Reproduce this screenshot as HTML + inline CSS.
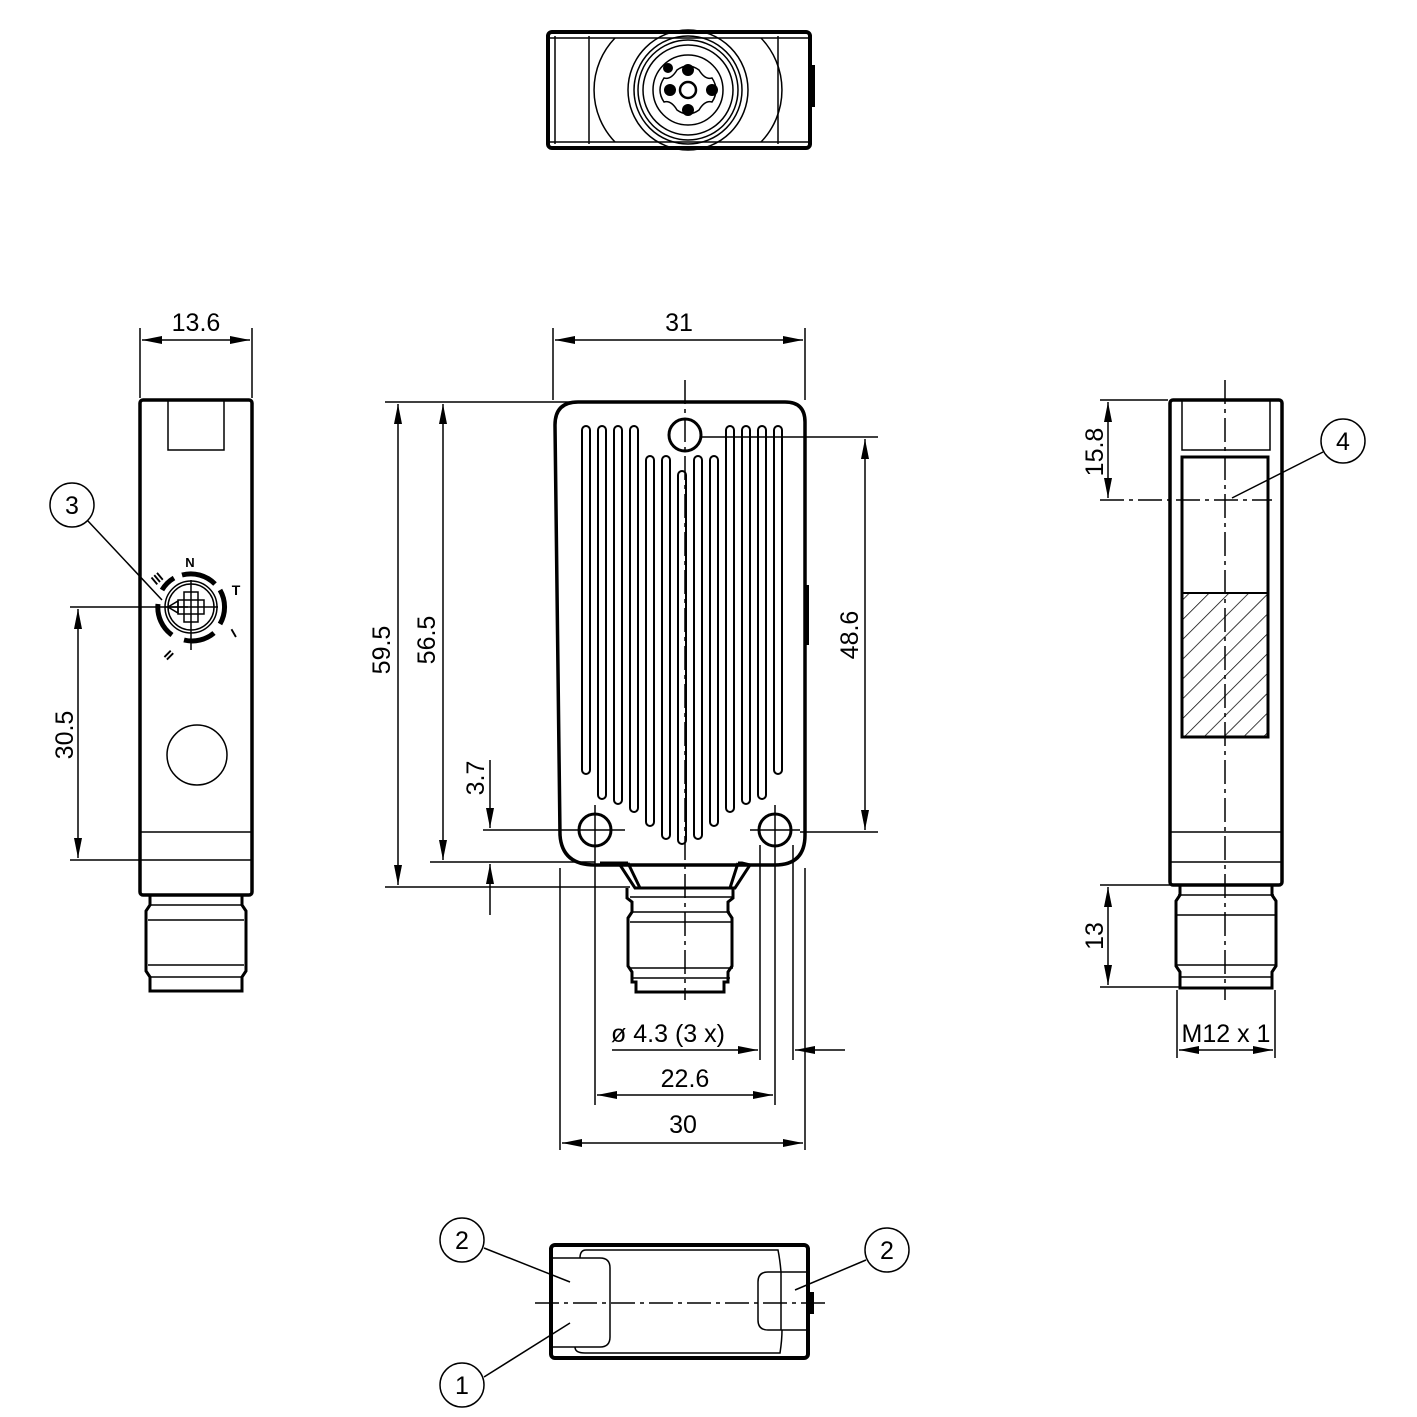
<!DOCTYPE html>
<html><head><meta charset="utf-8"><style>
html,body{margin:0;padding:0;background:#fff}
svg{display:block}
text{font-family:"Liberation Sans",sans-serif;font-size:25px;fill:#000}
</style></head><body>
<svg width="1417" height="1417" viewBox="0 0 1417 1417" xmlns="http://www.w3.org/2000/svg">
<defs>
<marker id="a" viewBox="0 0 20 8" refX="20" refY="4" markerWidth="20" markerHeight="8" markerUnits="userSpaceOnUse" orient="auto-start-reverse"><path d="M0,0 L20,4 L0,8z" fill="#000"/></marker>
<pattern id="h" width="14" height="14" patternUnits="userSpaceOnUse" patternTransform="rotate(45)"><line x1="0" y1="0" x2="0" y2="14" stroke="#000" stroke-width="1.5"/></pattern>
</defs>
<g fill="none" stroke="#000" stroke-width="1.5">

<!-- TOP VIEW -->
<rect x="548" y="32" width="262" height="116" rx="4" stroke-width="4"/>
<line x1="555" y1="36" x2="555" y2="144"/>
<line x1="550" y1="38" x2="808" y2="38"/><line x1="550" y1="142" x2="808" y2="142"/>
<line x1="589" y1="36" x2="589" y2="144"/><line x1="778" y1="36" x2="778" y2="144"/>
<path d="M615,38 A75,75 0 0 0 615,142"/><path d="M761,38 A75,75 0 0 1 761,142"/>
<circle cx="688" cy="90" r="60"/><circle cx="688" cy="90" r="54"/><circle cx="688" cy="90" r="50"/><circle cx="688" cy="90" r="45"/><circle cx="688" cy="90" r="35"/>
<path d="M677,70 Q688,62 699,70 Q705,80 712,78 Q720,90 712,102 Q705,100 699,110 Q688,118 677,110 Q671,100 664,102 Q656,90 664,78 Q671,80 677,70z"/>
<g fill="#000" stroke="none"><circle cx="688" cy="70" r="6"/><circle cx="688" cy="110" r="6"/><circle cx="670" cy="90" r="6"/><circle cx="712" cy="90" r="6"/><circle cx="668" cy="68" r="5"/><rect x="809" y="65" width="6" height="42"/></g>
<circle cx="688" cy="90" r="8" stroke-width="2.5"/>

<!-- LEFT SIDE VIEW -->
<rect x="140" y="400" width="112" height="495" rx="3" stroke-width="3.5"/>
<path d="M168,401 V450 H224 V401"/>
<line x1="141" y1="832" x2="251" y2="832"/><line x1="141" y1="860" x2="251" y2="860"/>
<circle cx="197" cy="755" r="30"/>
<path d="M150,895 v10 l-4,6 v60 l4,6 v14 h92 v-14 l4,-6 v-60 l-4,-6 v-10" stroke-width="3"/>
<line x1="148" y1="920" x2="244" y2="920"/><line x1="148" y1="965" x2="244" y2="965"/><line x1="150" y1="905" x2="242" y2="905"/><line x1="150" y1="977" x2="242" y2="977"/>
<!-- dial -->
<circle cx="191" cy="607" r="26"/><circle cx="191" cy="607" r="23"/>
<rect x="178" y="600" width="26" height="14"/><rect x="184" y="592" width="14" height="30"/>
<path d="M168,607 l10,-6 v12z"/>
<line x1="165" y1="607" x2="218" y2="607"/><line x1="191" y1="580" x2="191" y2="650"/>
<g stroke-width="5"><path d="M182,575 A34,34 0 0 1 215,584"/><path d="M220,590 A34,34 0 0 1 220,624"/><path d="M214,633 A34,34 0 0 1 184,640"/><path d="M172,635 A34,34 0 0 1 158,604"/><path d="M162,590 A34,34 0 0 1 174,578"/></g>
<!-- dims -->
<line x1="140" y1="398" x2="140" y2="328"/><line x1="252" y1="398" x2="252" y2="328"/>
<line x1="142" y1="340" x2="250" y2="340" marker-start="url(#a)" marker-end="url(#a)"/>
<line x1="70" y1="607" x2="188" y2="607"/><line x1="70" y1="860" x2="140" y2="860"/>
<line x1="78" y1="609" x2="78" y2="858" marker-start="url(#a)" marker-end="url(#a)"/>
<circle cx="72" cy="505" r="22"/><line x1="88" y1="521" x2="162" y2="600"/>

<!-- FRONT VIEW -->
<path d="M578,402 H785 Q805,402 805,422 V835 Q805,865 775,865 H595 Q562,865 560,835 L555,425 Q555,402 578,402z" stroke-width="3.5"/>
<circle cx="685" cy="435" r="16" stroke-width="3"/><circle cx="595" cy="830" r="16" stroke-width="3"/><circle cx="775" cy="830" r="16" stroke-width="3"/>
<g stroke-width="2">
<path d="M582,430 v340 a4,4 0 0 0 8,0 v-340 a4,4 0 0 0 -8,0z"/>
<path d="M598,430 v365 a4,4 0 0 0 8,0 v-365 a4,4 0 0 0 -8,0z"/>
<path d="M614,430 v370 a4,4 0 0 0 8,0 v-370 a4,4 0 0 0 -8,0z"/>
<path d="M630,430 v378 a4,4 0 0 0 8,0 v-378 a4,4 0 0 0 -8,0z"/>
<path d="M646,460 v362 a4,4 0 0 0 8,0 v-362 a4,4 0 0 0 -8,0z"/>
<path d="M662,460 v375 a4,4 0 0 0 8,0 v-375 a4,4 0 0 0 -8,0z"/>
<path d="M678,475 v365 a4,4 0 0 0 8,0 v-365 a4,4 0 0 0 -8,0z"/>
<path d="M694,460 v375 a4,4 0 0 0 8,0 v-375 a4,4 0 0 0 -8,0z"/>
<path d="M710,460 v362 a4,4 0 0 0 8,0 v-362 a4,4 0 0 0 -8,0z"/>
<path d="M726,430 v378 a4,4 0 0 0 8,0 v-378 a4,4 0 0 0 -8,0z"/>
<path d="M742,430 v370 a4,4 0 0 0 8,0 v-370 a4,4 0 0 0 -8,0z"/>
<path d="M758,430 v365 a4,4 0 0 0 8,0 v-365 a4,4 0 0 0 -8,0z"/>
<path d="M774,430 v340 a4,4 0 0 0 8,0 v-340 a4,4 0 0 0 -8,0z"/>
</g>
<rect x="804" y="585" width="5" height="60" fill="#000" stroke="none"/>
<path d="M600,863 H628 L620,865 L635,888 H735 L750,865 L742,863 H738" stroke-width="3"/>
<path d="M628,863 L640,888 M738,863 L730,888" stroke-width="3"/>
<path d="M627,888 v10 l5,4 v10 l-4,6 v48 l4,6 v10 h4 v10 h88 v-10 h4 v-10 l4,-6 v-48 l-4,-6 v-10 l5,-4 v-10" stroke-width="3"/>
<line x1="630" y1="897" x2="733" y2="897"/><line x1="632" y1="912" x2="730" y2="912"/><line x1="630" y1="922" x2="733" y2="922"/><line x1="630" y1="968" x2="733" y2="968"/><line x1="632" y1="978" x2="730" y2="978"/>
<line x1="685" y1="380" x2="685" y2="1000" stroke-dasharray="24,5,4,5"/>
<line x1="570" y1="830" x2="625" y2="830"/><line x1="750" y1="830" x2="800" y2="830"/>
<line x1="595" y1="805" x2="595" y2="1105"/><line x1="775" y1="805" x2="775" y2="1105"/>
<!-- dims front -->
<line x1="553" y1="400" x2="553" y2="328"/><line x1="805" y1="400" x2="805" y2="328"/>
<line x1="555" y1="340" x2="803" y2="340" marker-start="url(#a)" marker-end="url(#a)"/>
<line x1="385" y1="402" x2="575" y2="402"/><line x1="385" y1="887" x2="630" y2="887"/>
<line x1="398" y1="404" x2="398" y2="885" marker-start="url(#a)" marker-end="url(#a)"/>
<line x1="430" y1="862" x2="595" y2="862"/>
<line x1="443" y1="404" x2="443" y2="860" marker-start="url(#a)" marker-end="url(#a)"/>
<line x1="483" y1="830" x2="570" y2="830"/>
<line x1="490" y1="760" x2="490" y2="828" marker-end="url(#a)"/>
<line x1="490" y1="915" x2="490" y2="864" marker-end="url(#a)"/>
<line x1="700" y1="437" x2="878" y2="437"/><line x1="800" y1="832" x2="878" y2="832"/>
<line x1="865" y1="439" x2="865" y2="830" marker-start="url(#a)" marker-end="url(#a)"/>
<line x1="560" y1="868" x2="560" y2="1150"/><line x1="805" y1="868" x2="805" y2="1150"/>
<line x1="760" y1="845" x2="760" y2="1060"/><line x1="793" y1="845" x2="793" y2="1060"/>
<line x1="612" y1="1050" x2="758" y2="1050" marker-end="url(#a)"/>
<line x1="845" y1="1050" x2="795" y2="1050" marker-end="url(#a)"/>
<line x1="597" y1="1095" x2="773" y2="1095" marker-start="url(#a)" marker-end="url(#a)"/>
<line x1="562" y1="1143" x2="803" y2="1143" marker-start="url(#a)" marker-end="url(#a)"/>

<!-- RIGHT VIEW -->
<rect x="1170" y="400" width="112" height="485" rx="3" stroke-width="3.5"/>
<path d="M1182,401 V450 H1270 V401"/>
<rect x="1182" y="457" width="86" height="280" stroke-width="3"/>
<rect x="1182" y="593" width="86" height="144" fill="url(#h)" stroke-width="2"/>
<line x1="1171" y1="832" x2="1281" y2="832"/><line x1="1171" y1="862" x2="1281" y2="862"/>
<path d="M1180,885 v10 l-4,6 v65 l4,6 v16 h92 v-16 l4,-6 v-65 l-4,-6 v-10" stroke-width="3"/>
<line x1="1178" y1="895" x2="1274" y2="895"/><line x1="1176" y1="915" x2="1276" y2="915"/><line x1="1176" y1="965" x2="1276" y2="965"/><line x1="1180" y1="977" x2="1272" y2="977"/>
<line x1="1225" y1="380" x2="1225" y2="1000" stroke-dasharray="24,5,4,5"/>
<line x1="1100" y1="500" x2="1272" y2="500" stroke-dasharray="24,5,4,5"/>
<line x1="1100" y1="400" x2="1168" y2="400"/>
<line x1="1108" y1="402" x2="1108" y2="498" marker-start="url(#a)" marker-end="url(#a)"/>
<line x1="1100" y1="885" x2="1175" y2="885"/><line x1="1100" y1="987" x2="1180" y2="987"/>
<line x1="1108" y1="887" x2="1108" y2="985" marker-start="url(#a)" marker-end="url(#a)"/>
<line x1="1177" y1="990" x2="1177" y2="1058"/><line x1="1275" y1="990" x2="1275" y2="1058"/>
<line x1="1179" y1="1050" x2="1273" y2="1050" marker-start="url(#a)" marker-end="url(#a)"/>
<circle cx="1343" cy="441" r="22"/><line x1="1323" y1="452" x2="1232" y2="498"/>

<!-- BOTTOM VIEW -->
<rect x="551" y="1245" width="257" height="113" rx="4" stroke-width="4"/>
<path d="M580,1258 Q580,1250 586,1250 H778 Q780,1260 781,1272"/>
<path d="M575,1347 Q575,1353 585,1353 H780 Q782,1340 782,1330"/>
<path d="M553,1258 H600 Q610,1258 610,1268 V1337 Q610,1347 600,1347 H553"/>
<path d="M806,1272 H768 Q758,1272 758,1282 V1320 Q758,1330 768,1330 H806"/>
<line x1="781" y1="1272" x2="781" y2="1330"/>
<rect x="808" y="1292" width="6" height="22" fill="#000" stroke="none"/>
<line x1="535" y1="1303" x2="825" y2="1303" stroke-dasharray="24,5,4,5"/>
<circle cx="462" cy="1240" r="22"/><line x1="484" y1="1248" x2="570" y2="1282"/>
<circle cx="462" cy="1385" r="22"/><line x1="484" y1="1377" x2="570" y2="1323"/>
<circle cx="887" cy="1250" r="22"/><line x1="866" y1="1260" x2="795" y2="1290"/>
</g>

<g>
<text x="196" y="331" text-anchor="middle">13.6</text>
<text x="679" y="331" text-anchor="middle">31</text>
<text x="72" y="514" text-anchor="middle">3</text>
<text x="1343" y="450" text-anchor="middle">4</text>
<text x="462" y="1249" text-anchor="middle">2</text>
<text x="887" y="1259" text-anchor="middle">2</text>
<text x="462" y="1394" text-anchor="middle">1</text>
<text transform="translate(73,735) rotate(-90)" text-anchor="middle">30.5</text>
<text transform="translate(390,650) rotate(-90)" text-anchor="middle">59.5</text>
<text transform="translate(435,640) rotate(-90)" text-anchor="middle">56.5</text>
<text transform="translate(484,778) rotate(-90)" text-anchor="middle">3.7</text>
<text transform="translate(858,635) rotate(-90)" text-anchor="middle">48.6</text>
<text transform="translate(1103,452) rotate(-90)" text-anchor="middle">15.8</text>
<text transform="translate(1103,936) rotate(-90)" text-anchor="middle">13</text>
<text x="668" y="1042" text-anchor="middle">ø 4.3 (3 x)</text>
<text x="685" y="1087" text-anchor="middle">22.6</text>
<text x="683" y="1133" text-anchor="middle">30</text>
<text x="1226" y="1042" text-anchor="middle">M12 x 1</text>
<text x="190" y="567" text-anchor="middle" style="font-size:13px;font-weight:bold">N</text>
<text x="236" y="595" text-anchor="middle" style="font-size:14px;font-weight:bold">T</text>
<text transform="translate(160,582) rotate(-40)" text-anchor="middle" style="font-size:13px;font-weight:bold">III</text>
<text transform="translate(236,637) rotate(-30)" text-anchor="middle" style="font-size:13px;font-weight:bold">I</text>
<text transform="translate(172,652) rotate(-135)" text-anchor="middle" style="font-size:13px;font-weight:bold">II</text>
</g>
</svg>
</body></html>
